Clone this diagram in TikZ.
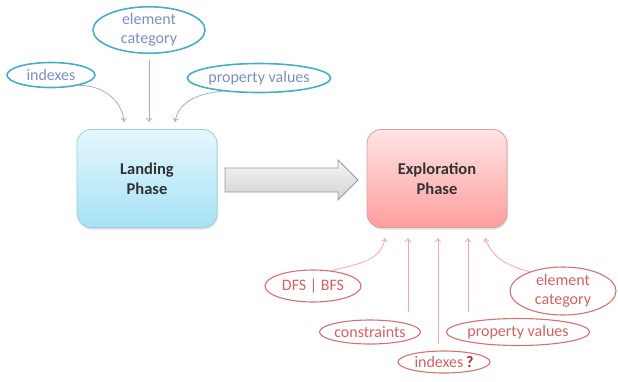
\documentclass[tikz,border=0pt]{standalone}
\usepackage{fontspec}
\setmainfont{Carlito}
\usetikzlibrary{shapes.geometric,arrows.meta,shadows}
\definecolor{bluering}{HTML}{4BACC6}
\definecolor{bluetext}{HTML}{7B8FBF}
\definecolor{bluearrow}{HTML}{9DB0D2}
\definecolor{redring}{HTML}{D27272}
\definecolor{redtext}{HTML}{CF6262}
\definecolor{redarrow}{HTML}{EDAAAA}
\definecolor{qmark}{HTML}{9A3434}
\definecolor{landtop}{HTML}{E6F7FD}
\definecolor{landbot}{HTML}{A6E1F6}
\definecolor{landline}{HTML}{9CCFE0}
\definecolor{expltop}{HTML}{FFE4E4}
\definecolor{explbot}{HTML}{FF9E9E}
\definecolor{explline}{HTML}{DCA0A0}
\tikzset{
  x=1pt, y=-1pt,
  font=\fontsize{16}{19}\selectfont,
  phasebox/.style={rounded corners=14pt, minimum width=140pt, minimum height=98pt,
    align=center, font=\fontsize{16.5}{20}\selectfont\bfseries, text=black!80,
    drop shadow={shadow xshift=1pt, shadow yshift=-2pt, opacity=0.25}},
  landbox/.style={phasebox, draw=landline, line width=0.8pt,
    top color=landtop, bottom color=landbot},
  explbox/.style={phasebox, draw=explline, line width=0.8pt,
    top color=expltop, bottom color=explbot},
  blueoval/.style={ellipse, draw=bluering, line width=1.6pt, text=bluetext,
    inner sep=0pt, align=center},
  redoval/.style={ellipse, draw=redring, line width=1.1pt, text=redtext,
    inner sep=0pt, align=center},
  bluelink/.style={draw=bluearrow, line width=0.8pt, -{To[length=4pt,width=6pt]}},
  redlink/.style={draw=redarrow, line width=0.8pt, -{To[length=4pt,width=6pt]}},
  bigarrow/.style={draw=gray!80, line width=0.8pt, top color=gray!8, bottom color=gray!35}
}
\begin{document}
\begin{tikzpicture}
\useasboundingbox (0,0) rectangle (618,381);

% phase boxes
\node[landbox] (land) at (147,178.5) {Landing\\Phase};
\node[explbox] (expl) at (437,178.5) {Exploration\\Phase};

% transition arrow between the phases
\path[bigarrow] (225,168) -- (338,168) -- (338,160) -- (358,180) -- (338,200)
  -- (338,192) -- (225,192) -- cycle;

% inputs of the landing phase
\node[blueoval, minimum width=112pt, minimum height=46pt] (lcat) at (149,30)
  {element\\category};
\node[blueoval, minimum width=88pt, minimum height=25pt] (lidx) at (51,75) {indexes};
\node[blueoval, minimum width=112pt, minimum height=29pt] (lprop) at (259,78)
  {property values};

\coordinate (la) at (124,122);
\coordinate (lb) at (149,122);
\coordinate (lc) at (175,122);
\coordinate (lbs) at (149,60);
\draw[bluelink] (lidx.-20) to[out=0, in=95] (la);
\draw[bluelink] (lbs) -- (lb);
\draw[bluelink] (lprop.-160) to[out=185, in=80] (lc);

% inputs of the exploration phase
\node[redoval, minimum width=96pt, minimum height=32pt] (dfs) at (313,286) {DFS | BFS};
\node[redoval, minimum width=96pt, minimum height=24pt] (cons) at (370,332) {constraints};
\node[redoval, minimum width=92pt, minimum height=22pt] (eidx) at (444,362)
  {indexes\,\textcolor{qmark}{\textbf{?}}};
\node[redoval, minimum width=130pt, minimum height=27pt] (eprop) at (518,332)
  {property values};
\node[redoval, minimum width=106pt, minimum height=48pt] (ecat) at (563,291)
  {element\\category};

\coordinate (ea) at (385,238);
\coordinate (eb) at (408,238);
\coordinate (ec) at (438,238);
\coordinate (ed) at (468,238);
\coordinate (ee) at (485,238);
\coordinate (ebs) at (408,312);
\coordinate (ecs) at (438,344);
\coordinate (eds) at (468,312);
\draw[redlink] (dfs.40) to[out=15, in=-100] (ea);
\draw[redlink] (ebs) -- (eb);
\draw[redlink] (ecs) -- (ec);
\draw[redlink] (eds) -- (ed);
\draw[redlink] (ecat.150) to[out=165, in=-70] (ee);
\end{tikzpicture}
\end{document}
